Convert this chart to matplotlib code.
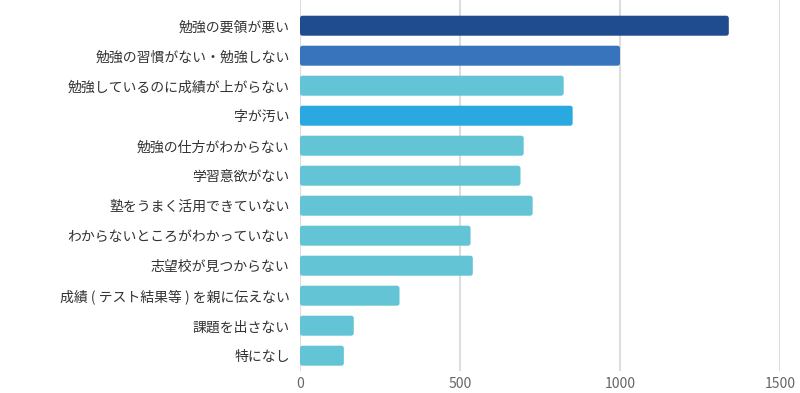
import matplotlib
matplotlib.use("Agg")
import matplotlib.pyplot as plt
from matplotlib.patches import FancyBboxPatch

plt.rcParams['font.family'] = ['Noto Sans CJK JP', 'DejaVu Sans']

categories = [
    "勉強の要領が悪い",
    "勉強の習慣がない・勉強しない",
    "勉強しているのに成績が上がらない",
    "字が汚い",
    "勉強の仕方がわからない",
    "学習意欲がない",
    "塾をうまく活用できていない",
    "わからないところがわかっていない",
    "志望校が見つからない",
    "成績 ( テスト結果等 ) を親に伝えない",
    "課題を出さない",
    "特になし",
]
values = [1340, 1000, 824, 852, 699, 689, 727, 533, 540, 311, 168, 137]
bar_colors = ["#1F4B8F", "#3774BC", "#63C4D5", "#29A9E0"] + ["#63C4D5"] * 8
x_ticks = [0, 500, 1000, 1500]

W, H = 800, 393
fig = plt.figure(figsize=(W / 100, H / 100), dpi=100)
ax_left, ax_right = 300 / W, 780 / W
ax_bottom, ax_top = 1 - 371 / H, 1.0
ax = fig.add_axes([ax_left, ax_bottom, ax_right - ax_left, ax_top - ax_bottom])

ax.set_xlim(0, 1500)
ax.set_ylim(11.51, -0.857)

bar_h = 20 / 30
x_per_px = 1500 / 480
y_per_px = 1 / 30
r_px = 2.5
for i, (v, c) in enumerate(zip(values, bar_colors)):
    p = FancyBboxPatch((0, i - bar_h / 2), v, bar_h,
                       boxstyle=f"round,pad=0,rounding_size={r_px * x_per_px}",
                       mutation_aspect=y_per_px / x_per_px,
                       facecolor=c, edgecolor="none", zorder=3)
    ax.add_patch(p)

ax.set_yticks(range(len(categories)))
ax.set_yticklabels(categories, fontsize=10, color="#333333")
ax.set_xticks(x_ticks)
ax.set_xticklabels([str(t) for t in x_ticks], fontsize=10, color="#666666")
ax.tick_params(axis="y", length=0, pad=7.5)
ax.tick_params(axis="x", length=0, pad=4)
for t in x_ticks:
    ax.axvline(t, color="#DDDDDD", linewidth=1.5, zorder=1)
for s in ax.spines.values():
    s.set_visible(False)

fig.savefig("out.png", dpi=100)
